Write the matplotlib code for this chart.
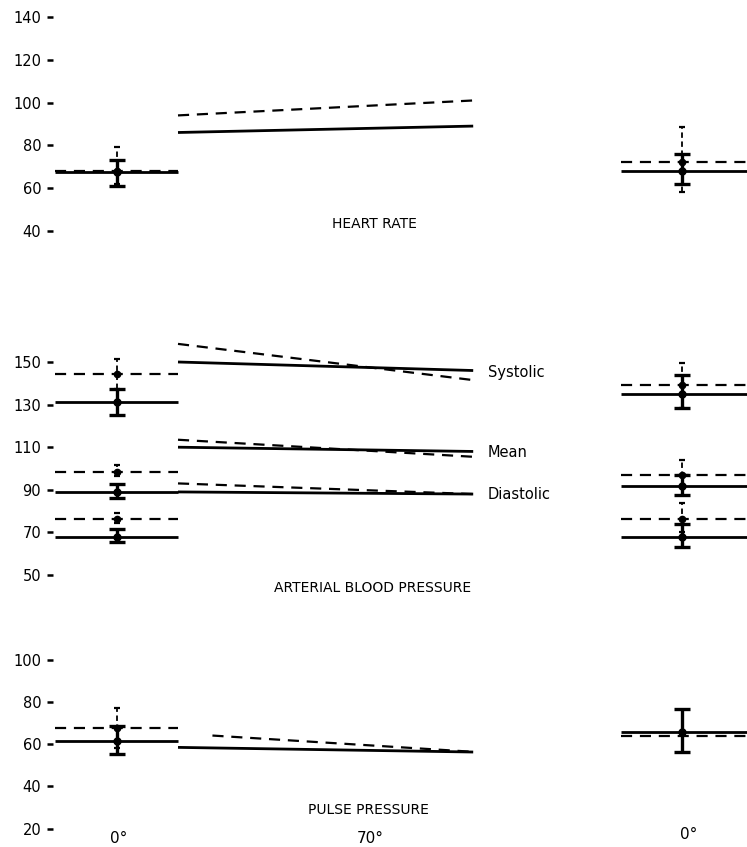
import matplotlib
matplotlib.use("Agg")
import matplotlib.pyplot as plt

# ---------------- data ----------------
ctrl_x = [0.0, 1.0]
ctrl_mark = 0.5
tilt_x = [1.0, 3.4]
rec_x = [4.6, 5.65]
rec_mark = 5.1

# Heart rate (mean, lower, upper)
hr_ctrl_solid = [67.5, 61, 73]
hr_ctrl_dashed = [68, 62, 79]
hr_tilt_solid = [86, 89]
hr_tilt_dashed = [94, 101]
hr_rec_solid = [68, 62, 76]
hr_rec_dashed = [72, 58, 88.5]

# Arterial blood pressure
sys_ctrl_solid = [131, 125, 137.5]
sys_ctrl_dashed = [144.5, 137.5, 151.5]
mean_ctrl_solid = [89, 86.3, 92.7]
mean_ctrl_dashed = [98.5, 96.5, 101.5]
dia_ctrl_solid = [68, 65.5, 71.5]
dia_ctrl_dashed = [76.3, 74.3, 79.3]
sys_tilt_solid = [150, 146]
sys_tilt_dashed = [158.5, 141.5]
mean_tilt_solid = [110, 108]
mean_tilt_dashed = [113.5, 105.5]
dia_tilt_solid = [89, 88]
dia_tilt_dashed = [93, 88]
sys_rec_solid = [135, 128.5, 144]
sys_rec_dashed = [139, 128.5, 149.7]
mean_rec_solid = [92, 87.6, 97]
mean_rec_dashed = [97, 92, 104]
dia_rec_solid = [68, 63, 74]
dia_rec_dashed = [76.3, 70, 83.7]

# Pulse pressure
pp_ctrl_solid = [61.5, 55.5, 68.5]
pp_ctrl_dashed = [67.7, 58, 77]
pp_tilt_solid = [58.4, 56.2]
pp_tilt_dashed_x = [1.28, 3.4]
pp_tilt_dashed = [64, 56.3]
pp_rec_solid = [65.8, 56.4, 76.8]
pp_rec_dashed = [63.8, 63.8, 63.8]

hr_ticks = [40, 60, 80, 100, 120, 140]
abp_ticks = [50, 70, 90, 110, 130, 150]
pp_ticks = [20, 40, 60, 80, 100]
x_labels = ["0°", "70°", "0°"]
x_label_pos = [0.52, 2.56, 5.15]

# ---------------- figure ----------------
W, H = 747, 847
fig = plt.figure(figsize=(W / 100, H / 100), dpi=100)
plt.rcParams['font.family'] = ['DejaVu Sans']

X0_PIX, XSCALE = 55, 123.0
AX_LEFT, AX_RIGHT = 53, 747


def make_axes(val_ref, pix_ref, pps, ylim):
    top_pix = pix_ref - (ylim[1] - val_ref) * pps
    bot_pix = pix_ref + (val_ref - ylim[0]) * pps
    rect = [AX_LEFT / W, 1 - bot_pix / H, (AX_RIGHT - AX_LEFT) / W, (bot_pix - top_pix) / H]
    ax = fig.add_axes(rect)
    ax.set_ylim(*ylim)
    ax.set_xlim((AX_LEFT - X0_PIX) / XSCALE, (AX_RIGHT - X0_PIX) / XSCALE)
    for s in ax.spines.values():
        s.set_visible(False)
    ax.set_xticks([])
    ax.tick_params(axis='y', length=4.5, width=1.8, pad=4, labelsize=10.5, direction='out')
    ax.patch.set_alpha(0)
    return ax


SOLID_LW = 2.0
DASH_LW = 1.6
DASH = (0, (5, 3.5))
TITLE_FS = 10
LABEL_FS = 10.5


def hline(ax, xs, ys, solid=True):
    if solid:
        ax.plot(xs, ys, color='black', lw=SOLID_LW, solid_capstyle='butt')
    else:
        ax.plot(xs, ys, color='black', lw=DASH_LW, linestyle=DASH)


def ebar(ax, x, vals, solid=True):
    m, lo, hi = vals
    if solid:
        ax.errorbar([x], [m], yerr=[[m - lo], [hi - m]], fmt='o', color='black',
                    ms=5, elinewidth=2.4, capsize=5.5, capthick=2.4)
    else:
        eb = ax.errorbar([x], [m], yerr=[[m - lo], [hi - m]], fmt='o', color='black',
                         ms=4.5, elinewidth=1.3, capsize=2.5, capthick=1.6)
        eb[2][0].set_linestyle((0, (3, 2)))


def group(ax, xs, mark, solid_vals, dashed_vals):
    hline(ax, xs, [solid_vals[0]] * 2, True)
    hline(ax, xs, [dashed_vals[0]] * 2, False)
    ebar(ax, mark, dashed_vals, False)
    ebar(ax, mark, solid_vals, True)


# Panel 1: heart rate
ax1 = make_axes(60, 188, 42.7 / 20, (30, 146))
ax1.set_yticks(hr_ticks)
group(ax1, ctrl_x, ctrl_mark, hr_ctrl_solid, hr_ctrl_dashed)
hline(ax1, tilt_x, hr_tilt_solid, True)
hline(ax1, tilt_x, hr_tilt_dashed, False)
group(ax1, rec_x, rec_mark, hr_rec_solid, hr_rec_dashed)
ax1.text(2.6, 43.1, "HEART RATE", ha='center', va='center', fontsize=TITLE_FS)

# Panel 2: arterial blood pressure
ax2 = make_axes(150, 362, 2.13, (42, 162))
ax2.set_yticks(abp_ticks)
for s, d in [(sys_ctrl_solid, sys_ctrl_dashed), (mean_ctrl_solid, mean_ctrl_dashed),
             (dia_ctrl_solid, dia_ctrl_dashed)]:
    group(ax2, ctrl_x, ctrl_mark, s, d)
for s, d in [(sys_tilt_solid, sys_tilt_dashed), (mean_tilt_solid, mean_tilt_dashed),
             (dia_tilt_solid, dia_tilt_dashed)]:
    hline(ax2, tilt_x, s, True)
    hline(ax2, tilt_x, d, False)
for s, d in [(sys_rec_solid, sys_rec_dashed), (mean_rec_solid, mean_rec_dashed),
             (dia_rec_solid, dia_rec_dashed)]:
    group(ax2, rec_x, rec_mark, s, d)
ax2.text(3.52, 145.3, "Systolic", ha='left', va='center', fontsize=LABEL_FS)
ax2.text(3.52, 107.7, "Mean", ha='left', va='center', fontsize=LABEL_FS)
ax2.text(3.52, 87.6, "Diastolic", ha='left', va='center', fontsize=LABEL_FS)
ax2.text(2.58, 43.9, "ARTERIAL BLOOD PRESSURE", ha='center', va='center', fontsize=TITLE_FS)

# Panel 3: pulse pressure
ax3 = make_axes(60, 744, 2.1125, (13, 106))
ax3.set_yticks(pp_ticks)
group(ax3, ctrl_x, ctrl_mark, pp_ctrl_solid, pp_ctrl_dashed)
hline(ax3, tilt_x, pp_tilt_solid, True)
hline(ax3, pp_tilt_dashed_x, pp_tilt_dashed, False)
hline(ax3, rec_x, [pp_rec_solid[0]] * 2, True)
hline(ax3, rec_x, [pp_rec_dashed[0]] * 2, False)
ebar(ax3, rec_mark, pp_rec_solid, True)
ax3.text(2.55, 28.7, "PULSE PRESSURE", ha='center', va='center', fontsize=TITLE_FS)
for xp, lab, yv in zip(x_label_pos, x_labels, [15.3, 15.3, 17.0]):
    ax3.text(xp, yv, lab, ha='center', va='center', fontsize=11)

fig.savefig("out.png", dpi=100)
